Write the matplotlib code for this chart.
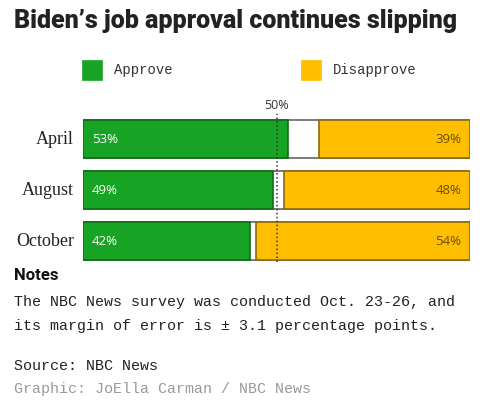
import matplotlib.pyplot as plt
from matplotlib.patches import Rectangle

months = ["April", "August", "October"]
approve = [53, 49, 42]          # labelled values
disapprove = [39, 48, 54]
approve_bar = [53, 49, 43.2]    # bar lengths as drawn in the graphic
disapprove_bar = [39, 48, 55.3]

GREEN = "#17a323"
GREEN_EDGE = "#0f6e17"
YELLOW = "#ffbe00"
YELLOW_EDGE = "#8a6a10"

W, H = 480, 405
fig = plt.figure(figsize=(W / 100, H / 100), dpi=100)

def fx(px):
    return px / W

def fy(py):
    return 1 - py / H

# bars
ax = fig.add_axes([fx(83), fy(267), fx(470) - fx(83), (267 - 113.5) / H])
ax.set_xlim(0, 100)
ax.set_ylim(len(months) - 0.5, -0.5)
ax.axis("off")

bh = 0.745
for i, m in enumerate(months):
    # outline of the whole row
    ax.barh(i, 100, height=bh, left=0, color="white", edgecolor="#666666", linewidth=1.2)
    ax.barh(i, approve_bar[i], height=bh, left=0, color=GREEN, edgecolor=GREEN_EDGE, linewidth=1.2)
    ax.barh(i, disapprove_bar[i], height=bh, left=100 - disapprove_bar[i], color=YELLOW,
            edgecolor=YELLOW_EDGE, linewidth=1.2)
    ax.text(2.3, i, f"{approve[i]}%", color="white", ha="left", va="center",
            fontsize=9.5, family="Open Sans")
    ax.text(97.7, i, f"{disapprove[i]}%", color="#6b4e00", ha="right", va="center",
            fontsize=9.5, family="Open Sans")
    ax.text(-2.3, i, m, ha="right", va="center", fontsize=13,
            family="Liberation Serif", color="#222222")

ax.axvline(50, ymin=0.03, ymax=1.0, color="#333333", linestyle=(0, (1, 1.6)), linewidth=1.1)
ax.text(50, -0.52, "50%", transform=ax.transData, ha="center", va="bottom",
        fontsize=9, family="Open Sans", color="#333333")

# title
fig.text(fx(14), fy(21), "Biden\u2019s job approval continues slipping", ha="left", va="center",
         fontsize=18, fontweight="heavy", family="Roboto", color="#222222")

# legend
for x0, lab, col in [(82, "Approve", GREEN), (301, "Disapprove", YELLOW)]:
    fig.patches.append(Rectangle((fx(x0), fy(80)), fx(20), 20 / H, transform=fig.transFigure,
                                 facecolor=col, edgecolor=col, linewidth=0.5))
    fig.text(fx(x0 + 32), fy(70), lab, ha="left", va="center", fontsize=10,
             family="Liberation Mono", color="#333333")

# notes
fig.text(fx(14), fy(275), "Notes", ha="left", va="center", fontsize=12,
         fontweight="bold", family="Roboto", color="#111111")
fig.text(fx(14), fy(302), "The NBC News survey was conducted Oct. 23-26, and",
         ha="left", va="center", fontsize=10.8, family="Liberation Mono", color="#222222")
fig.text(fx(14), fy(326), "its margin of error is \u00b1 3.1 percentage points.",
         ha="left", va="center", fontsize=10.8, family="Liberation Mono", color="#222222")
fig.text(fx(14), fy(366), "Source: NBC News", ha="left", va="center", fontsize=10.8,
         family="Liberation Mono", color="#222222")
fig.text(fx(14), fy(389), "Graphic: JoElla Carman / NBC News", ha="left", va="center",
         fontsize=10.8, family="Liberation Mono", color="#9a9a9a")

fig.savefig("out.png", dpi=100)
